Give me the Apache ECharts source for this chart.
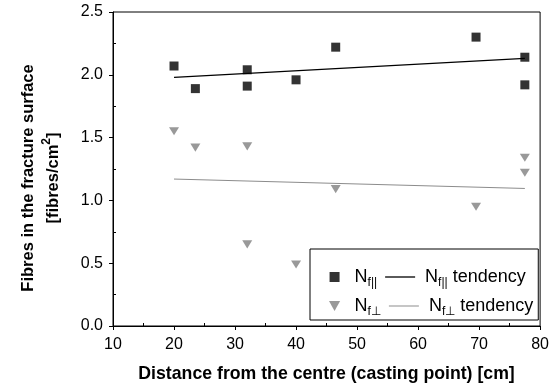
<!DOCTYPE html>
<html>
<head>
<meta charset="utf-8">
<script src="https://cdn.jsdelivr.net/npm/echarts@6/dist/echarts.min.js"></script>
<style>
  html, body { margin: 0; padding: 0; background: #fff; }
  #chart { width: 552px; height: 391px; }
</style>
</head>
<body>
<div id="chart"></div>
<script>
// distance from the centre [cm]
var distance = [20, 23.5, 32, 32, 40, 46.5, 69.5, 77.5, 77.5];
// fibres parallel / perpendicular [fibres/cm2]
var fibresPar = [2.07, 1.89, 2.04, 1.91, 1.96, 2.22, 2.30, 2.14, 1.92];
var fibresPerp = [1.55, 1.42, 1.43, 0.65, 0.49, 1.09, 0.95, 1.34, 1.22];
// tendency lines (end points)
var trendX = [20, 77.5];
var trendPar = [1.98, 2.13];
var trendPerp = [1.17, 1.095];

var xTicks = [10, 80, 10];   // min, max, interval
var yTicks = [0, 2.5, 0.5];

function pairs(xs, ys) {
    return xs.map(function (x, i) { return [x, ys[i]]; });
}

var FONT = '"Liberation Sans", Arial, sans-serif';
var square = 'path://M0,0L10,0L10,10L0,10Z';
var downTriangle = 'path://M0,0L10,0L5,9Z';
var thickBar = 'path://M0,0L30,0L30,1.3L0,1.3Z';
var thinBar = 'path://M0,0L30,0L30,1L0,1Z';

var legendText = {
    'Nf||': '{n|N}{s|f||}',
    'Nf|| tendency': '{n| N}{s|f||}{n| tendency}',
    'Nf⊥': '{n|N}{s|f⊥}',
    'Nf⊥ tendency': '{n| N}{s|f⊥}{n| tendency}'
};

var chart = echarts.init(document.getElementById('chart'));

var option = {
    animation: false,
    backgroundColor: '#fff',
    grid: {
        left: 113, right: 9, top: 12, bottom: 65,
        show: true, borderColor: '#000', borderWidth: 1
    },
    legend: {
        left: 310, top: 249,
        width: 240,
        padding: [19, 5, 2, 19],
        itemGap: 8,
        itemWidth: 30,
        itemHeight: 10,
        symbolKeepAspect: true,
        borderColor: '#000',
        borderWidth: 1,
        backgroundColor: '#fff',
        data: [
            { name: 'Nf||', icon: square },
            { name: 'Nf|| tendency', icon: thickBar },
            { name: 'Nf⊥', icon: downTriangle },
            { name: 'Nf⊥ tendency', icon: thinBar }
        ],
        formatter: function (name) { return legendText[name]; },
        textStyle: {
            fontFamily: FONT,
            color: '#000',
            rich: {
                n: { fontSize: 18, fontFamily: FONT, color: '#000', lineHeight: 24 },
                s: { fontSize: 12, fontFamily: FONT, color: '#000', lineHeight: 13, verticalAlign: 'bottom' }
            }
        }
    },
    xAxis: {
        type: 'value',
        min: xTicks[0], max: xTicks[1], interval: xTicks[2],
        name: 'Distance from the centre (casting point) [cm]',
        nameLocation: 'middle',
        nameGap: 39,
        nameTextStyle: { fontFamily: FONT, fontSize: 17.7, fontWeight: 'bold', color: '#000' },
        axisLine: { lineStyle: { color: '#000', width: 1 } },
        axisTick: { length: 4, lineStyle: { color: '#000' } },
        minorTick: { show: true, splitNumber: 2, length: -3, lineStyle: { color: '#000' } },
        axisLabel: { fontFamily: FONT, fontSize: 16, color: '#000', margin: 11 },
        splitLine: { show: false }
    },
    yAxis: {
        type: 'value',
        min: yTicks[0], max: yTicks[1], interval: yTicks[2],
        name: '{a|Fibres in the fracture surface}\n{a|[fibres/cm}{p|2}{a|]}',
        nameLocation: 'middle',
        nameGap: 47,
        nameTextStyle: {
            padding: [0, 18, 0, 0],
            rich: {
                a: { fontFamily: FONT, fontSize: 16.5, fontWeight: 'bold', color: '#000', lineHeight: 25 },
                p: { fontFamily: FONT, fontSize: 12, fontWeight: 'bold', color: '#000', lineHeight: 16, verticalAlign: 'top' }
            }
        },
        axisLine: { show: true, lineStyle: { color: '#000', width: 1 } },
        axisTick: { show: true, length: 4, lineStyle: { color: '#000' } },
        minorTick: { show: true, splitNumber: 2, length: -3, lineStyle: { color: '#000' } },
        axisLabel: {
            fontFamily: FONT, fontSize: 16, color: '#000', margin: 10,
            formatter: function (v) { return v.toFixed(1); }
        },
        splitLine: { show: false }
    },
    series: [
        {
            name: 'Nf||',
            type: 'scatter',
            symbol: square,
            symbolSize: 9,
            symbolKeepAspect: true,
            itemStyle: { color: '#000' },
            data: pairs(distance, fibresPar),
            z: 3
        },
        {
            name: 'Nf|| tendency',
            type: 'line',
            symbol: 'none',
            lineStyle: { color: '#000', width: 1.3 },
            itemStyle: { color: '#000' },
            data: pairs(trendX, trendPar),
            z: 2
        },
        {
            name: 'Nf⊥',
            type: 'scatter',
            symbol: downTriangle,
            symbolSize: [10, 9],
            symbolKeepAspect: true,
            itemStyle: { color: '#7f7f7f' },
            data: pairs(distance, fibresPerp),
            z: 3
        },
        {
            name: 'Nf⊥ tendency',
            type: 'line',
            symbol: 'none',
            lineStyle: { color: '#8c8c8c', width: 1 },
            itemStyle: { color: '#8c8c8c' },
            data: pairs(trendX, trendPerp),
            z: 2
        }
    ]
};

chart.setOption(option);
</script>
</body>
</html>
